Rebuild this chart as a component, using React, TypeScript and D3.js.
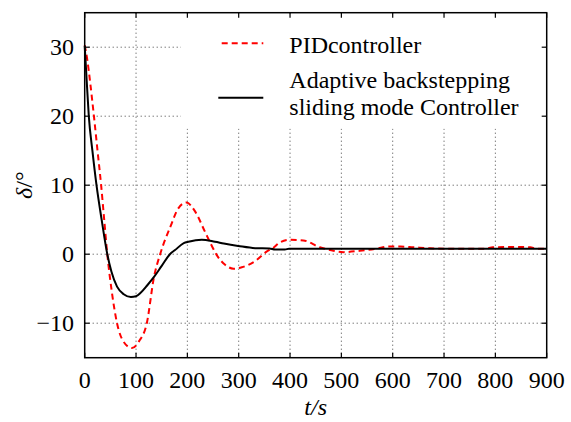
import React, { useEffect, useRef } from "react";
import * as d3 from "d3";

const xTicks = [0, 100, 200, 300, 400, 500, 600, 700, 800, 900];
const yTicks = [-10, 0, 10, 20, 30];

const pidT = [0, 5, 10, 18, 25, 32, 38, 44, 52, 63, 75, 92, 106, 121, 135, 147, 167, 182, 198, 215, 234, 247, 257, 273, 290, 306, 332, 355, 367, 380, 400, 426, 458, 478, 504, 536, 569, 591, 615, 640, 673, 700, 780, 795, 830, 868, 880, 900];
const pidV = [30.3, 28.2, 25.3, 20, 15, 10, 5, 0, -5, -10, -12.6, -13.6, -12.6, -10, -3.3, 0, 4, 6.6, 7.5, 6.2, 3.3, 1.3, -0.1, -1.5, -2.1, -1.9, -1.0, 0.4, 0.9, 1.7, 2.1, 2.0, 1.0, 0.6, 0.3, 0.5, 0.8, 1.1, 1.1, 1.0, 0.85, 0.8, 0.8, 1.0, 1.05, 1.0, 0.8, 0.8];

const absT = [0, 4, 8, 15, 23, 33, 44, 52, 63, 76, 90, 100, 109, 122, 135, 150, 166, 176, 193, 202, 228, 254, 271, 299, 332, 360, 371, 390, 398, 450, 600, 900];
const absV = [30.2, 25, 20, 15, 10, 5, 0, -2.5, -4.7, -5.8, -6.2, -6.1, -5.6, -4.5, -3.3, -1.7, 0, 0.6, 1.6, 1.8, 2.1, 1.8, 1.55, 1.2, 0.87, 0.82, 0.68, 0.68, 0.8, 0.8, 0.8, 0.8];

const legendLabels = ["PIDcontroller", "Adaptive backstepping", "sliding mode Controller"];

const W = 571, H = 422;
const M = { left: 84.7, top: 12.7, right: 24.3, bottom: 64.3 };
const FONT = "'Liberation Serif', 'Times New Roman', serif";

export default function App() {
  const ref = useRef<SVGSVGElement>(null);
  useEffect(() => {
    const svg = d3.select(ref.current);
    svg.selectAll("*").remove();
    const x = d3.scaleLinear().domain([0, 900]).range([M.left, W - M.right]);
    const y = d3.scaleLinear().domain([-15, 35]).range([H - M.bottom, M.top]);
    const x0 = M.left, x1 = W - M.right, y0 = H - M.bottom, y1 = M.top;

    const g = svg.append("g");
    // grid
    g.selectAll(".gx").data(xTicks.filter(t => t > 0 && t < 900)).enter().append("line")
      .attr("x1", d => x(d)).attr("x2", d => x(d)).attr("y1", y0).attr("y2", y1)
      .attr("stroke", "#444").attr("stroke-width", 1).attr("stroke-dasharray", "1,3");
    g.selectAll(".gy").data(yTicks).enter().append("line")
      .attr("x1", x0).attr("x2", x1).attr("y1", d => y(d)).attr("y2", d => y(d))
      .attr("stroke", "#444").attr("stroke-width", 1).attr("stroke-dasharray", "1,3");

    // legend background
    g.append("rect").attr("x", 181).attr("y", y1 + 1).attr("width", x1 - 182).attr("height", 115).attr("fill", "white");

    const line = d3.line<[number, number]>().x(d => x(d[0])).y(d => y(d[1])).curve(d3.curveMonotoneX);
    const pid: [number, number][] = pidT.map((t, i) => [t, pidV[i]]);
    const abs: [number, number][] = absT.map((t, i) => [t, absV[i]]);

    g.append("path").attr("d", line(pid)).attr("fill", "none").attr("stroke", "#ff0000")
      .attr("stroke-width", 2).attr("stroke-dasharray", "6,4");
    g.append("path").attr("d", line(abs)).attr("fill", "none").attr("stroke", "#000")
      .attr("stroke-width", 2);

    // frame
    g.append("rect").attr("x", x0).attr("y", y1).attr("width", x1 - x0).attr("height", y0 - y1)
      .attr("fill", "none").attr("stroke", "#000").attr("stroke-width", 1.5);

    // ticks inside on all sides
    const tl = 5;
    xTicks.forEach(t => {
      g.append("line").attr("x1", x(t)).attr("x2", x(t)).attr("y1", y0).attr("y2", y0 - tl).attr("stroke", "#000").attr("stroke-width", 1.2);
      g.append("line").attr("x1", x(t)).attr("x2", x(t)).attr("y1", y1).attr("y2", y1 + tl).attr("stroke", "#000").attr("stroke-width", 1.2);
      g.append("text").attr("x", x(t)).attr("y", y0 + 30).attr("text-anchor", "middle")
        .attr("font-family", FONT).attr("font-size", 24).attr("fill", "#000").text(String(t));
    });
    yTicks.forEach(t => {
      g.append("line").attr("x1", x0).attr("x2", x0 + tl).attr("y1", y(t)).attr("y2", y(t)).attr("stroke", "#000").attr("stroke-width", 1.2);
      g.append("line").attr("x1", x1).attr("x2", x1 - tl).attr("y1", y(t)).attr("y2", y(t)).attr("stroke", "#000").attr("stroke-width", 1.2);
      g.append("text").attr("x", x0 - 10.7).attr("y", y(t) + 7.5).attr("text-anchor", "end")
        .attr("font-family", FONT).attr("font-size", 24).attr("fill", "#000").text(t < 0 ? "\u2212" + Math.abs(t) : String(t));
    });

    // axis titles
    g.append("text").attr("x", (x0 + x1) / 2).attr("y", 415).attr("text-anchor", "middle")
      .attr("font-family", FONT).attr("font-size", 24).attr("font-style", "italic").text("t/s");
    const yl = g.append("text").attr("transform", `translate(32,${(y0 + y1) / 2}) rotate(-90)`)
      .attr("text-anchor", "middle").attr("font-family", FONT).attr("font-size", 24);
    yl.append("tspan").attr("font-style", "italic").text("δ");
    yl.append("tspan").text("/°");

    // legend
    g.append("line").attr("x1", 221.7).attr("x2", 263.3).attr("y1", 43.3).attr("y2", 43.3)
      .attr("stroke", "#ff0000").attr("stroke-width", 2).attr("stroke-dasharray", "6,4");
    g.append("line").attr("x1", 218.3).attr("x2", 263.3).attr("y1", 97.7).attr("y2", 97.7)
      .attr("stroke", "#000").attr("stroke-width", 2);
    const ly = [52.7, 88.3, 115];
    legendLabels.forEach((s, i) => {
      g.append("text").attr("x", 289.3).attr("y", ly[i]).attr("font-family", FONT).attr("font-size", 24)
        .attr("fill", "#000").text(s);
    });
  }, []);
  return <svg ref={ref} width={W} height={H} style={{ position: "absolute", left: 0, top: 0, background: "#fff" }} />;
}
